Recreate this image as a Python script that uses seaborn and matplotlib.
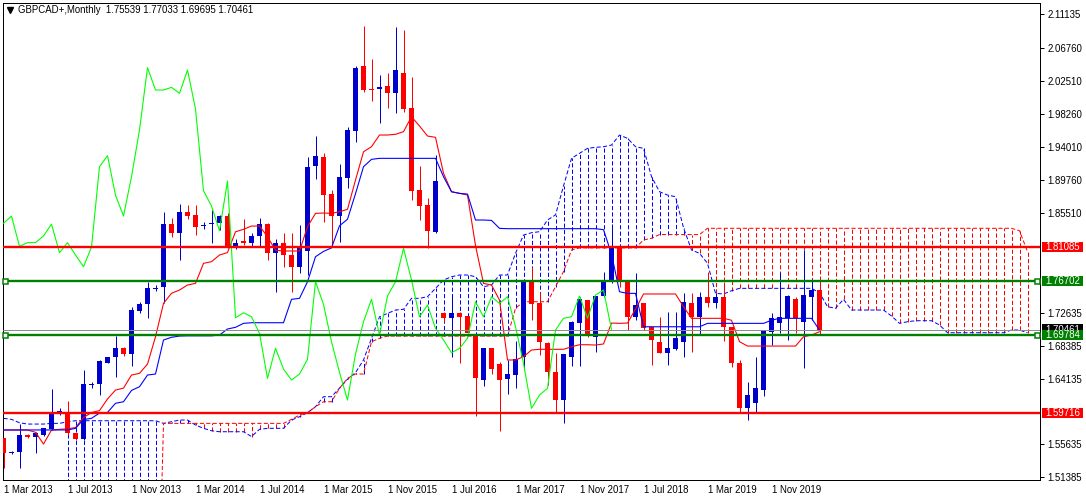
import numpy as np
import matplotlib
matplotlib.use("Agg")
import matplotlib.pyplot as plt
import seaborn as sns
from matplotlib.patches import Rectangle

# ---------------- data ----------------
opens = [1.5642, 1.5455, 1.5461, 1.5684, 1.5655, 1.5684, 1.5758, 1.5985, 1.5978, 1.5707,
         1.5629, 1.6335, 1.6339, 1.6618, 1.6688, 1.6811, 1.6726, 1.7289, 1.7372, 1.7575,
         1.7591, 1.8407, 1.8296, 1.8563, 1.8524, 1.8380, 1.8405, 1.8418, 1.8511, 1.8095,
         1.8194, 1.8168, 1.8250, 1.8407, 1.8031, 1.8167, 1.8008, 1.7857, 1.8060, 1.9161,
         1.9277, 1.8795, 1.8511, 1.9005, 1.9613, 2.0448, 2.0146, 2.0146, 2.0189, 2.0095,
         2.0361, 1.9910, 1.8847, 1.8653, 1.8309, 1.7263, 1.7198, 1.7263, 1.7220, 1.6962,
         1.6394, 1.6804, 1.6601, 1.6403, 1.6459, 1.6695, 1.7663, 1.7384, 1.6875, 1.6501,
         1.6136, 1.6695, 1.7134, 1.7427, 1.6946, 1.7479, 1.7663, 1.8116, 1.7663, 1.7211,
         1.7384, 1.7075, 1.6888, 1.6746, 1.6791, 1.6889, 1.7384, 1.7211, 1.7469, 1.7392,
         1.7469, 1.7082, 1.6610, 1.6029, 1.6094, 1.6266, 1.7018, 1.7134, 1.7191, 1.7440,
         1.7147, 1.7470, 1.75539]
highs = [1.5650, 1.5480, 1.5823, 1.5695, 1.5727, 1.5780, 1.6278, 1.6030, 1.6127, 1.5720,
         1.6523, 1.6372, 1.6650, 1.6695, 1.6962, 1.6825, 1.7341, 1.7405, 1.7664, 1.7620,
         1.8563, 1.8481, 1.8666, 1.8653, 1.8653, 1.8430, 1.8589, 1.8524, 1.8546, 1.8220,
         1.8469, 1.8290, 1.8481, 1.8420, 1.8211, 1.8288, 1.8288, 1.8395, 1.9277, 1.9548,
         1.9320, 1.8846, 1.9180, 1.9664, 2.0452, 2.0965, 2.0543, 2.0331, 2.0353, 2.0947,
         2.0913, 2.0302, 1.9157, 1.8740, 1.9299, 1.7268, 1.7491, 1.7270, 1.7225, 1.6965,
         1.6810, 1.6810, 1.6631, 1.6652, 1.6902, 1.7663, 1.7857, 1.7534, 1.6880, 1.6739,
         1.6735, 1.7150, 1.7470, 1.7430, 1.7480, 1.7792, 1.8408, 1.8120, 1.7670, 1.7772,
         1.7390, 1.7080, 1.7211, 1.7276, 1.7276, 1.7514, 1.7521, 1.7534, 1.7792, 1.7513,
         1.7663, 1.7085, 1.6653, 1.6373, 1.6695, 1.7045, 1.7263, 1.7792, 1.7492, 1.7470,
         1.8073, 1.7694, 1.77033]
lows = [1.5254, 1.5440, 1.5262, 1.5645, 1.5448, 1.5675, 1.5750, 1.5945, 1.5684, 1.5620,
        1.5620, 1.6290, 1.6201, 1.6610, 1.6437, 1.6700, 1.6579, 1.7255, 1.7191, 1.7550,
        1.7385, 1.8244, 1.7941, 1.8468, 1.8266, 1.8350, 1.8159, 1.8330, 1.8100, 1.8080,
        1.8137, 1.8130, 1.8124, 1.7941, 1.7534, 1.7848, 1.7534, 1.7780, 1.7752, 1.8990,
        1.8438, 1.8137, 1.8179, 1.8869, 1.9471, 2.0116, 2.0000, 1.9716, 1.9909, 1.9837,
        1.9858, 1.8718, 1.8460, 1.8095, 1.8288, 1.7147, 1.6688, 1.6610, 1.6990, 1.5934,
        1.6317, 1.6472, 1.5740, 1.6213, 1.6287, 1.6524, 1.7169, 1.6717, 1.6330, 1.5985,
        1.5836, 1.6579, 1.6579, 1.6946, 1.6760, 1.7470, 1.7650, 1.7599, 1.7040, 1.7169,
        1.7040, 1.6588, 1.6738, 1.6588, 1.6781, 1.6695, 1.6760, 1.6975, 1.7340, 1.7320,
        1.6902, 1.6566, 1.5965, 1.5878, 1.5965, 1.6188, 1.6846, 1.7005, 1.6910, 1.7005,
        1.6545, 1.7169, 1.69695]
closes = [1.5448, 1.5465, 1.5684, 1.5655, 1.5707, 1.5771, 1.5978, 1.5992, 1.5707, 1.5629,
          1.6343, 1.6345, 1.6640, 1.6688, 1.6804, 1.6726, 1.7298, 1.7375, 1.7578, 1.7585,
          1.8407, 1.8288, 1.8563, 1.8511, 1.8373, 1.8395, 1.8418, 1.8511, 1.8120, 1.8168,
          1.8168, 1.8254, 1.8407, 1.8038, 1.8167, 1.8008, 1.7857, 1.8112, 1.9148, 1.9290,
          1.8781, 1.8511, 1.9019, 1.9622, 2.0426, 2.0138, 2.0138, 2.0172, 2.0095, 2.0396,
          1.9893, 1.8838, 1.8640, 1.8322, 1.8963, 1.7198, 1.7263, 1.7211, 1.6997, 1.6416,
          1.6804, 1.6536, 1.6394, 1.6472, 1.6662, 1.7663, 1.7371, 1.6888, 1.6493, 1.6136,
          1.6730, 1.7147, 1.7436, 1.6976, 1.7479, 1.7663, 1.8094, 1.7686, 1.7211, 1.7362,
          1.7062, 1.6911, 1.6746, 1.6803, 1.6933, 1.7405, 1.7211, 1.7469, 1.7384, 1.7469,
          1.7082, 1.6610, 1.6029, 1.6201, 1.6287, 1.7040, 1.7191, 1.7211, 1.7479, 1.7191,
          1.7492, 1.7556, 1.70461]

tenkan = [1.5749, 1.5749, 1.5749, 1.5749, 1.5720, 1.5568, 1.5749, 1.5758, 1.5765, 1.5780,
          1.5910, 1.5975, 1.6000, 1.6150, 1.6265, 1.6290, 1.6459, 1.6481, 1.6600, 1.6953,
          1.7384, 1.7514, 1.7556, 1.7621, 1.7642, 1.7901, 1.7922, 1.8008, 1.8040, 1.8308,
          1.8340, 1.8382, 1.8382, 1.8244, 1.8070, 1.8060, 1.8060, 1.8060, 1.8373, 1.8546,
          1.8550, 1.8546, 1.8567, 1.8598, 1.8976, 1.9341, 1.9406, 1.9557, 1.9557, 1.9566,
          1.9600, 1.9793, 1.9673, 1.9544, 1.9527, 1.9063, 1.8825, 1.8804, 1.8782, 1.8130,
          1.7642, 1.7621, 1.7427, 1.6653, 1.6653, 1.6695, 1.6782, 1.6791, 1.6791, 1.6791,
          1.6791, 1.6824, 1.6850, 1.6850, 1.6846, 1.6860, 1.7130, 1.7126, 1.7130, 1.7310,
          1.7505, 1.7505, 1.7505, 1.7505, 1.7505, 1.7341, 1.7191, 1.7191, 1.7191, 1.7191,
          1.7191, 1.7166, 1.6889, 1.6833, 1.6833, 1.6833, 1.6833, 1.6833, 1.6833, 1.6833,
          1.6953, 1.6975, 1.7018]
kijun = [1.5750, 1.5750, 1.5750, 1.5750, 1.5750, 1.5750, 1.5750, 1.5750, 1.5750, 1.5771,
         1.5885, 1.5900, 1.5968, 1.5976, 1.6094, 1.6114, 1.6260, 1.6308, 1.6459, 1.6472,
         1.6911, 1.6946, 1.6962, 1.6965, 1.6965, 1.6965, 1.6965, 1.6975, 1.7053, 1.7075,
         1.7126, 1.7134, 1.7134, 1.7134, 1.7134, 1.7134, 1.7436, 1.7449, 1.7663, 1.7986,
         1.8055, 1.8100, 1.8385, 1.8470, 1.8800, 1.9148, 1.9243, 1.9256, 1.9256, 1.9256,
         1.9256, 1.9256, 1.9256, 1.9256, 1.9256, 1.9019, 1.8825, 1.8804, 1.8795, 1.8460,
         1.8460, 1.8455, 1.8352, 1.8348, 1.8348, 1.8348, 1.8348, 1.8348, 1.8348, 1.8348,
         1.8348, 1.8348, 1.8348, 1.8348, 1.8348, 1.8335, 1.8020, 1.7534, 1.7513, 1.7513,
         1.7082, 1.7082, 1.7082, 1.7082, 1.7082, 1.7082, 1.7082, 1.7082, 1.7126, 1.7126,
         1.7126, 1.7126, 1.7126, 1.7126, 1.7126, 1.7126, 1.7166, 1.7191, 1.7191, 1.7191,
         1.7191, 1.7191, 1.7040]
span_a = [1.5900, 1.5887, 1.5843, 1.5826, 1.5826, 1.5826, 1.5835, 1.5835, 1.5856, 1.5869,
          1.5869, 1.5869, 1.5869, 1.5869, 1.5869, 1.5869, 1.5869, 1.5869, 1.5869, 1.5869,
          1.5835, 1.5856, 1.5878, 1.5878, 1.5814, 1.5771, 1.5740, 1.5727, 1.5727, 1.5727,
          1.5727, 1.5665, 1.5758, 1.5771, 1.5771, 1.5771, 1.5878, 1.5921, 1.5973, 1.6050,
          1.6179, 1.6179, 1.6290, 1.6405, 1.6490, 1.6653, 1.6933, 1.7211, 1.7255, 1.7298,
          1.7307, 1.7449, 1.7449, 1.7470, 1.7578, 1.7685, 1.7728, 1.7750, 1.7750, 1.7728,
          1.7599, 1.7620, 1.7750, 1.7750, 1.8030, 1.8266, 1.8296, 1.8309, 1.8460, 1.8525,
          1.8900, 1.9256, 1.9320, 1.9385, 1.9398, 1.9406, 1.9428, 1.9557, 1.9514, 1.9406,
          1.9385, 1.9019, 1.8825, 1.8782, 1.8761, 1.8360, 1.8073, 1.8030, 1.7901, 1.7514,
          1.7505, 1.7547, 1.7578, 1.7578, 1.7578, 1.7578, 1.7578, 1.7578, 1.7578, 1.7578,
          1.7578, 1.7578, 1.7520, 1.7341, 1.7320, 1.7436, 1.7298, 1.7298, 1.7298, 1.7298,
          1.7298, 1.7221, 1.7126, 1.7147, 1.7160, 1.7160, 1.7160, 1.7105, 1.7005, 1.7005,
          1.7005, 1.7005, 1.7005, 1.7005, 1.7005, 1.7005, 1.7040, 1.7040, 1.7005]
nan = float("nan")
# span B: bars 0-7 not drawn, bars 8-19 lie far below the visible price range
span_b = [nan, nan, nan, nan, nan, nan, nan, nan, 1.20, 1.20,
          1.20, 1.20, 1.20, 1.20, 1.20, 1.20, 1.20, 1.20, 1.20, 1.20,
          1.5835, 1.5835, 1.5835, 1.5835, 1.5835, 1.5835, 1.5835, 1.5835, 1.5835, 1.5835,
          1.5835, 1.5835, 1.5835, 1.5835, 1.5835, 1.5835, 1.5887, 1.5943, 1.5973, 1.6050,
          1.6114, 1.6114, 1.6287, 1.6416, 1.6472, 1.6472, 1.6889, 1.6933, 1.6962, 1.6962,
          1.6962, 1.6962, 1.6962, 1.6962, 1.6962, 1.6962, 1.6962, 1.6962, 1.6962, 1.6962,
          1.6962, 1.6962, 1.6962, 1.6962, 1.7320, 1.7405, 1.7405, 1.7405, 1.7405, 1.7599,
          1.7793, 1.8073, 1.8100, 1.8100, 1.8100, 1.8100, 1.8100, 1.8100, 1.8100, 1.8100,
          1.8202, 1.8224, 1.8272, 1.8272, 1.8272, 1.8272, 1.8272, 1.8272, 1.8353, 1.8353,
          1.8353, 1.8353, 1.8353, 1.8353, 1.8353, 1.8353, 1.8353, 1.8353, 1.8353, 1.8353,
          1.8353, 1.8353, 1.8353, 1.8353, 1.8353, 1.8353, 1.8353, 1.8353, 1.8353, 1.8353,
          1.8353, 1.8353, 1.8353, 1.8353, 1.8353, 1.8353, 1.8353, 1.8353, 1.8353, 1.8353,
          1.8353, 1.8353, 1.8353, 1.8353, 1.8353, 1.8353, 1.8353, 1.8322, 1.8050]

x_tick_bars = [0, 8, 16, 24, 32, 40, 48, 56, 64, 72, 80, 88, 96]
x_tick_labels = ["1 Mar 2013", "1 Jul 2013", "1 Nov 2013", "1 Mar 2014", "1 Jul 2014",
                 "1 Mar 2015", "1 Nov 2015", "1 Jul 2016", "1 Mar 2017", "1 Nov 2017",
                 "1 Jul 2018", "1 Mar 2019", "1 Nov 2019"]
y_ticks = [2.11135, 2.06760, 2.02510, 1.98260, 1.94010, 1.89760, 1.85510,
           1.72635, 1.68385, 1.64135, 1.55635, 1.51385]
red_levels = [1.81085, 1.59716]
green_levels = [1.76702, 1.69784]
bid_price = 1.70461
title_text = "GBPCAD+,Monthly  1.75539 1.77033 1.69695 1.70461"

# ---------------- styling ----------------
sns.set_style("white")
plt.rcParams["font.family"] = ["Liberation Sans", "DejaVu Sans"]
plt.rcParams["lines.scale_dashes"] = False

BULL = "#0000CD"
BEAR = "#FF0000"
KIJUN_C = "#0000FF"
TENKAN_C = "#FF0000"
CHIKOU_C = "#00FF00"
LEVEL_RED = "#FF0000"
LEVEL_GREEN = "#008000"
FS = 6.9
PX = 0.72  # one pixel in points

W, H = 1086, 501
fig = plt.figure(figsize=(W / 100, H / 100), dpi=100)
ax_l, ax_r, ax_t, ax_b = 2.5, 1040.0, 2.7, 480.0
ax = fig.add_axes([ax_l / W, (H - ax_b) / H, (ax_r - ax_l) / W, (ax_b - ax_t) / H])

xmin, xmax = -0.125, 129.56
ymin, ymax = 1.5104, 2.1265
ax.set_xlim(xmin, xmax)
ax.set_ylim(ymin, ymax)
per_px = (ymax - ymin) / (ax_b - ax_t)

o = np.array(opens); h = np.array(highs); l = np.array(lows); c = np.array(closes)
n = len(o)
xb = np.arange(n)
sa = np.array(span_a); sb = np.array(span_b)
xs = np.arange(len(sa))

# cloud hatching
dash = (0, (3.0, 1.6))
valid = ~np.isnan(sb)
for j in xs[valid]:
    col = KIJUN_C if sa[j] >= sb[j] else TENKAN_C
    ax.vlines(j, min(sa[j], sb[j]), max(sa[j], sb[j]), colors=col, lw=PX,
              linestyles=dash, zorder=1)
ax.plot(xs, sa, color=KIJUN_C, lw=PX, ls=dash, zorder=2)
ax.plot(xs, sb, color=TENKAN_C, lw=PX, ls=dash, zorder=2)

# candles
up = c >= o
cols = np.where(up, BULL, BEAR)
ax.vlines(xb, l, h, colors=cols, lw=PX, zorder=3)
body_bot = np.minimum(o, c)
body_h = np.maximum(np.abs(c - o), per_px)
ax.bar(xb, body_h, bottom=body_bot, width=0.62, color=cols, lw=0, zorder=3)

# ichimoku lines
sns.lineplot(x=xb, y=np.array(tenkan), ax=ax, color=TENKAN_C, lw=PX * 1.1,
             estimator=None, sort=False, zorder=4)
sns.lineplot(x=xb, y=np.array(kijun), ax=ax, color=KIJUN_C, lw=PX * 1.1,
             estimator=None, sort=False, zorder=4)
chikou = c[26:]
sns.lineplot(x=np.arange(len(chikou)), y=chikou, ax=ax, color=CHIKOU_C, lw=PX * 1.1,
             estimator=None, sort=False, zorder=4)

# bid line and levels
ax.axhline(bid_price, color="#8C8C8C", lw=PX, zorder=5)
for v in red_levels:
    ax.axhline(v, color=LEVEL_RED, lw=1.7, zorder=6)
for v in green_levels:
    ax.axhline(v, color=LEVEL_GREEN, lw=1.7, zorder=6)
ytr = ax.get_yaxis_transform()
axw = ax_r - ax_l
for v in green_levels:
    ax.plot([(4.7 - ax_l) / axw, (1037.0 - ax_l) / axw], [v, v], ls="none", marker="s",
            ms=3.6, mfc="white", mec=LEVEL_GREEN, mew=1.1, transform=ytr, zorder=7,
            clip_on=False)

# right-side price labels
box_x0 = (1041.7 - ax_l) / axw
box_w = 41.0 / axw
txt_x = (1045.5 - ax_l) / axw
half = 5.2 * per_px


def price_label(v, fc, z, clip_bottom=None):
    ax.add_patch(Rectangle((box_x0, v - half), box_w, 2 * half, transform=ytr,
                           facecolor=fc, edgecolor="none", clip_on=False, zorder=z))
    t = ax.text(txt_x, v, f"{v:.5f}", transform=ytr, ha="left", va="center",
                color="white", fontsize=FS, zorder=z + 0.5, clip_on=False)
    if clip_bottom is not None:
        # only the part above the label below it stays visible
        clip = Rectangle((box_x0, clip_bottom), box_w, v + half - clip_bottom,
                         transform=ytr)
        t.set_clip_path(clip)
        t.set_clip_on(True)


# bid label is mostly covered by the 1.69784 label, as in the reference
price_label(bid_price, "#000000", 10, clip_bottom=green_levels[1] + half)
for v in red_levels:
    price_label(v, LEVEL_RED, 12)
for v in green_levels:
    price_label(v, LEVEL_GREEN, 12)

# axes / ticks
ax.set_xlabel(""); ax.set_ylabel("")
ax.yaxis.tick_right()
ax.set_yticks(y_ticks)
ax.set_yticklabels([f"{v:.5f}" for v in y_ticks])
ax.set_xticks(x_tick_bars)
ax.set_xticklabels(x_tick_labels)
for lbl in ax.get_xticklabels():
    lbl.set_ha("left")
ax.tick_params(axis="y", direction="out", length=3.0, width=PX, pad=2.2,
               labelsize=FS, colors="black")
ax.tick_params(axis="x", direction="out", length=2.2, width=PX, pad=1.5,
               labelsize=FS, colors="black")
for s in ax.spines.values():
    s.set_color("black")
    s.set_linewidth(PX)
    s.set_visible(True)

# title
ax.plot([(9.5 - ax_l) / axw], [1 - (10.5 - ax_t) / (ax_b - ax_t)], marker="v", ms=4.2,
        color="black", transform=ax.transAxes, clip_on=False, zorder=8)
ax.text((18.0 - ax_l) / axw, 1 - (10.3 - ax_t) / (ax_b - ax_t), title_text,
        transform=ax.transAxes, ha="left", va="center", fontsize=FS, color="black")

fig.savefig("out.png", dpi=100)
